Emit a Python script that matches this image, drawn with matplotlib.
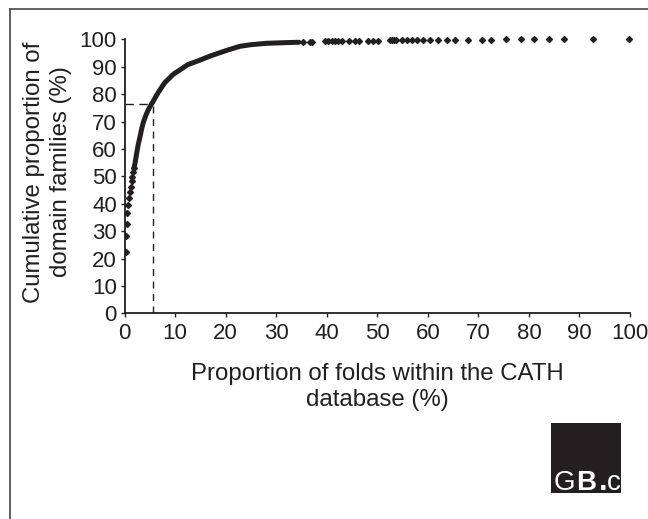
import matplotlib
matplotlib.use("Agg")
import matplotlib.pyplot as plt
from matplotlib.patches import Rectangle
from matplotlib.lines import Line2D

# ---- data ----
# isolated first points of the cumulative curve (folds %, cumulative families %)
early_x = [0.24, 0.24, 0.45, 0.56, 0.75, 0.90, 1.09, 1.22, 1.42, 1.54, 1.74, 1.88]
early_y = [22.5, 28.2, 32.6, 36.5, 39.6, 42.0, 44.2, 46.2, 48.2, 49.9, 51.6, 53.1]
# dense part of the curve
dense_x = [1.88, 2.1, 2.4, 2.7, 3.07, 3.4, 3.7, 4.2, 4.7, 5.2, 5.7, 6.3, 7.0, 8.0, 9.65,
           11.3, 12.5, 14.7, 17.0, 18.9, 20.5, 22.8, 25.0, 28.0, 31.0, 34.5]
dense_y = [53.1, 55.0, 58.4, 61.5, 64.5, 67.4, 69.6, 72.2, 74.3, 76.0, 77.5, 79.5, 81.6, 84.3, 87.3,
           89.3, 90.8, 92.3, 94.0, 95.2, 96.2, 97.5, 98.1, 98.6, 98.8, 99.0]
# sparse tail points
tail_x = [35.3, 36.7, 37.0, 39.7, 40.3, 41.0, 41.6, 42.3, 43.0, 44.5, 45.5, 46.4,
          48.2, 49.2, 50.2, 52.6, 53.0, 53.4, 53.8, 54.8, 55.8, 56.8, 57.8, 59.0,
          60.4, 62.1, 63.7, 65.4, 68.0, 70.7, 72.6, 75.5, 78.4, 81.0, 84.0, 86.9,
          92.7, 99.9]
tail_y = [99.1, 99.2, 99.2, 99.3, 99.3, 99.3, 99.4, 99.4, 99.4, 99.5, 99.5, 99.5,
          99.6, 99.6, 99.6, 99.7, 99.7, 99.7, 99.7, 99.7, 99.8, 99.8, 99.8, 99.8,
          99.8, 99.9, 99.9, 99.9, 99.9, 99.9, 99.9, 100.0, 100.0, 100.0, 100.0, 100.0,
          100.0, 100.0]
marker_x = 5.6
marker_y = 76.6
x_ticks = [0, 10, 20, 30, 40, 50, 60, 70, 80, 90, 100]
y_ticks = [0, 10, 20, 30, 40, 50, 60, 70, 80, 90, 100]

ink = "#231f20"
plt.rcParams['font.family'] = ['Liberation Sans', 'DejaVu Sans']

fig = plt.figure(figsize=(6.48, 5.19), dpi=100)
ax = fig.add_axes([124.5 / 648, 1 - 313.3 / 519, (630 - 124.5) / 648, (313.3 - 39.5) / 519])

ax.plot(dense_x, dense_y, color=ink, lw=3.6, solid_capstyle='round', solid_joinstyle='round',
        zorder=3)
ax.plot(early_x, early_y, ls='none', marker='D', ms=3.0, color=ink, zorder=4)
ax.plot(tail_x, tail_y, ls='none', marker='D', ms=3.0, color=ink, zorder=4, clip_on=False)

ax.plot([0, marker_x], [marker_y, marker_y], color=ink, lw=1.0, dashes=(6, 4), zorder=2)
ax.plot([marker_x, marker_x], [0, marker_y], color=ink, lw=1.0, dashes=(5, 4), zorder=2)

ax.set_xlim(0, 100)
ax.set_ylim(0, 100)
ax.set_xticks(x_ticks)
ax.set_yticks(y_ticks)
for s in ['top', 'right']:
    ax.spines[s].set_visible(False)
for s in ['left', 'bottom']:
    ax.spines[s].set_color(ink)
    ax.spines[s].set_linewidth(1.3)
ax.tick_params(axis='both', direction='out', length=3, width=1.0, color=ink,
               labelsize=16, labelcolor=ink)
ax.tick_params(axis='x', pad=4)
ax.tick_params(axis='y', pad=2.5)

fig.text(377 / 648, 1 - 387 / 519, "Proportion of folds within the CATH\ndatabase (%)",
         ha='center', va='center', fontsize=17.3, color=ink, linespacing=1.25)
fig.text(47.5 / 648, 1 - 172 / 519, "Cumulative proportion of\ndomain families (%)",
         ha='center', va='center', rotation=90, fontsize=17.3, color=ink, linespacing=1.25)

# figure frame (left and top edges)
fig.add_artist(Line2D([9.5 / 648, 9.5 / 648], [0, 1 - 9 / 519], transform=fig.transFigure,
                      color="#555555", lw=1.3))
fig.add_artist(Line2D([9.5 / 648, 1], [1 - 9 / 519, 1 - 9 / 519], transform=fig.transFigure,
                      color="#555555", lw=1.3))

# logo
fig.add_artist(Rectangle((551 / 648, 1 - 492.5 / 519), 70 / 648, 70 / 519,
                         transform=fig.transFigure, color=ink, lw=0))
by = 1 - 490 / 519
fig.text(564 / 648, by, "G", color='white', fontsize=20, va='baseline', ha='center')
fig.text(586.5 / 648, by, "B", color='white', fontsize=20, va='baseline', ha='center',
         fontweight='bold')
fig.text(603 / 648, by, ".", color='white', fontsize=22, va='baseline', ha='center',
         fontweight='bold')
fig.text(613.5 / 648, by, "c", color='white', fontsize=20, va='baseline', ha='center')

fig.savefig("out.png", dpi=100)
